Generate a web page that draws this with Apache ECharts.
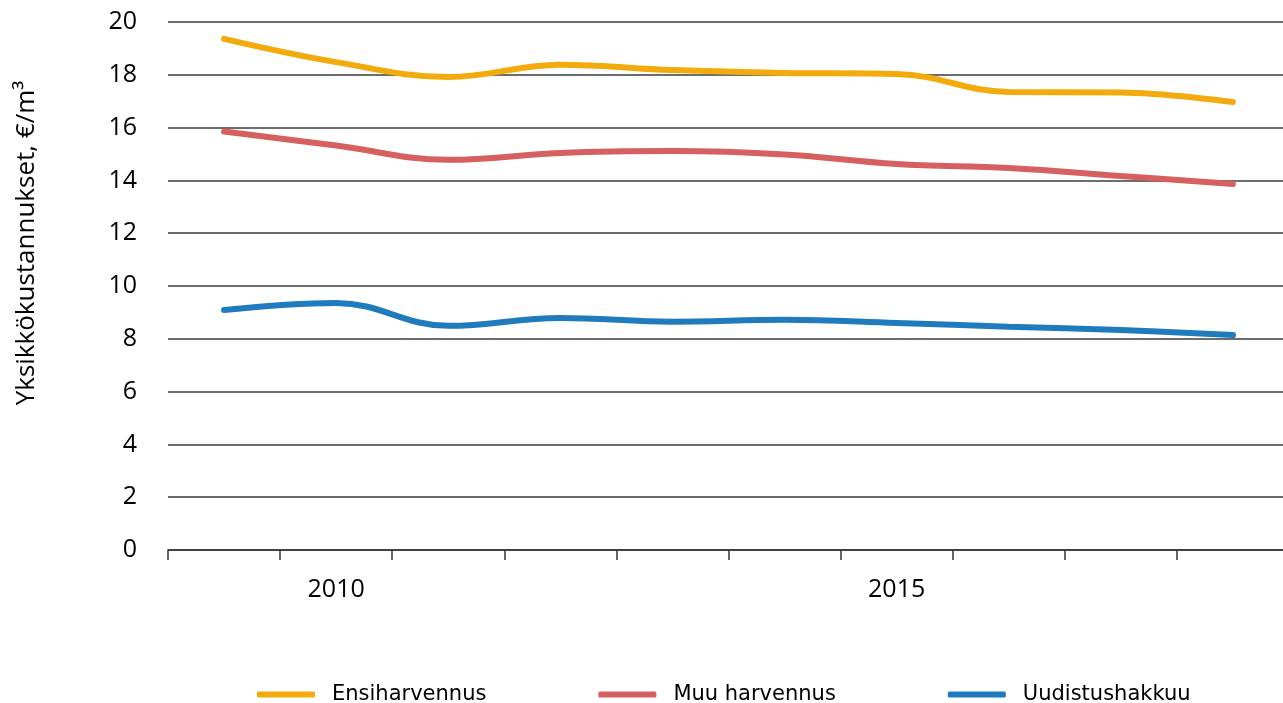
<!DOCTYPE html>
<html><head><meta charset="utf-8">
<script src="https://cdn.jsdelivr.net/npm/echarts@6/dist/echarts.min.js"></script>
<style>html,body{margin:0;padding:0;background:#fff}#c{width:1283px;height:703px}</style>
</head><body><div id="c"></div>
<script>
const years = ['2009','2010','2011','2012','2013','2014','2015','2016','2017','2018'];
const labeledYears = ['2010','2015'];
const ensiharvennus = [19.36, 18.48, 17.92, 18.38, 18.18, 18.07, 18.03, 17.35, 17.33, 16.97];
const muuHarvennus = [15.85, 15.32, 14.78, 15.04, 15.11, 14.98, 14.62, 14.47, 14.17, 13.86];
const uudistushakkuu = [9.09, 9.36, 8.49, 8.79, 8.65, 8.72, 8.60, 8.46, 8.33, 8.14];
const yTicks = {min: 0, max: 20, interval: 2};
const seriesNames = ['Ensiharvennus', 'Muu harvennus', 'Uudistushakkuu'];
const colors = ['#F2AA0C', '#D65F5F', '#1F7BBE'];

const font = '"Open Sans", sans-serif';
const chart = echarts.init(document.getElementById('c'));
const mk = (name, data, color) => ({
  name, type: 'line', data, smooth: 0.4, symbol: 'none',
  lineStyle: {width: 6, color, cap: 'round'}, itemStyle: {color}
});
chart.setOption({
  animation: false,
  color: colors,
  grid: {left: 168, width: 1121, top: 22, height: 528, containLabel: false, outerBoundsMode: 'none'},
  legend: {
    top: 679, left: 252, itemWidth: 58, itemHeight: 6, itemGap: 112,
    icon: 'roundRect',
    textStyle: {fontFamily: '"DejaVu Sans", sans-serif', fontSize: 21, color: '#000', padding: [0, 0, 0, 12]},
    data: seriesNames
  },
  xAxis: {
    type: 'category', data: years, boundaryGap: true,
    axisLine: {lineStyle: {color: '#333', width: 1.5}},
    axisTick: {show: true, interval: 0, length: 10, lineStyle: {color: '#333', width: 1.5}},
    axisLabel: {
      interval: (i, v) => labeledYears.includes(v),
      fontFamily: font, fontSize: 25, color: '#000', margin: 27
    }
  },
  yAxis: {
    type: 'value', min: yTicks.min, max: yTicks.max, interval: yTicks.interval,
    name: 'Yksikkökustannukset, €/m³', nameLocation: 'middle', nameGap: 128,
    nameTextStyle: {fontFamily: font, fontSize: 26, color: '#000', padding: [0, 0, 0, 86]},
    axisLine: {show: false}, axisTick: {show: false},
    axisLabel: {fontFamily: font, fontSize: 25, color: '#000', margin: 31},
    splitLine: {lineStyle: {color: '#3c3c3c', width: 1.5}}
  },
  series: [
    mk(seriesNames[0], ensiharvennus, colors[0]),
    mk(seriesNames[1], muuHarvennus, colors[1]),
    mk(seriesNames[2], uudistushakkuu, colors[2])
  ]
});
</script></body></html>
